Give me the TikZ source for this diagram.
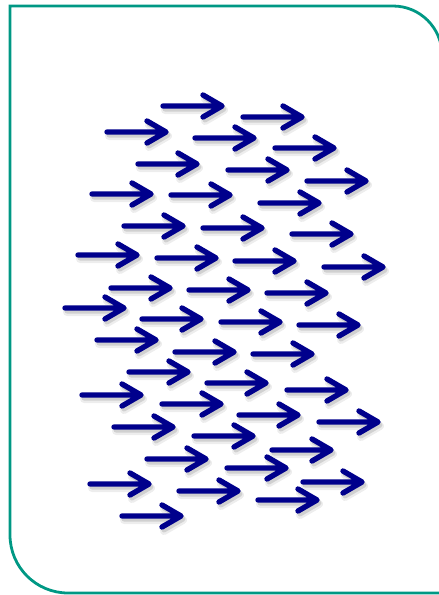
\documentclass[tikz,border=0pt]{standalone}
\usepackage{tikz}
\definecolor{frameteal}{RGB}{0,152,132}
\definecolor{flownavy}{RGB}{0,0,140}

\begin{document}
\begin{tikzpicture}[
  x=1pt,y=-1pt,
  frame/.style={draw=frameteal, line width=2.8pt},
  flow/.style={draw=flownavy, line width=5.4pt, line cap=round, line join=round},
  flowshade/.style={draw=black, opacity=0.07, line width=8pt, line cap=round, line join=round},
  flowshadecore/.style={draw=black, opacity=0.12, line width=5pt, line cap=round, line join=round}
]
\useasboundingbox (0,0) rectangle (439,595);

% Frame
\draw[frame] (10,6) -- (393,6) arc[start angle=-90, end angle=0, radius=49]
  -- (442,593) -- (68,593) arc[start angle=90, end angle=180, radius=58] -- cycle;

% Arrows (left end of shaft)
\foreach \x/\y in {163/106, 243/117, 107/132, 195/138, 275/148, 138/164, 228/170, 307/181,
  92/194, 171/195, 260/203, 124/226, 203/228, 292/234, 78/255, 157/258, 235/261, 324/267,
  111/288, 189/290, 267/293, 65/308, 142/319, 221/322, 299/325, 97/340, 175/352, 253/354,
  129/372, 207/383, 287/390, 82/395, 162/404, 239/415, 319/422, 114/427, 194/436, 272/450,
  147/459, 227/468, 303/482, 90/484, 179/491, 258/500, 122/516} {
  \draw[flowshade] (\x+2,\y+4) -- (\x+60,\y+4) (\x+42,\y-7) -- (\x+61,\y+4) -- (\x+42,\y+15);
  \draw[flowshadecore] (\x+2,\y+3) -- (\x+60,\y+3) (\x+42,\y-8) -- (\x+61,\y+3) -- (\x+42,\y+14);
  \draw[flow] (\x,\y) -- (\x+58,\y) (\x+40,\y-11) -- (\x+59,\y) -- (\x+40,\y+11);
}
\end{tikzpicture}
\end{document}
